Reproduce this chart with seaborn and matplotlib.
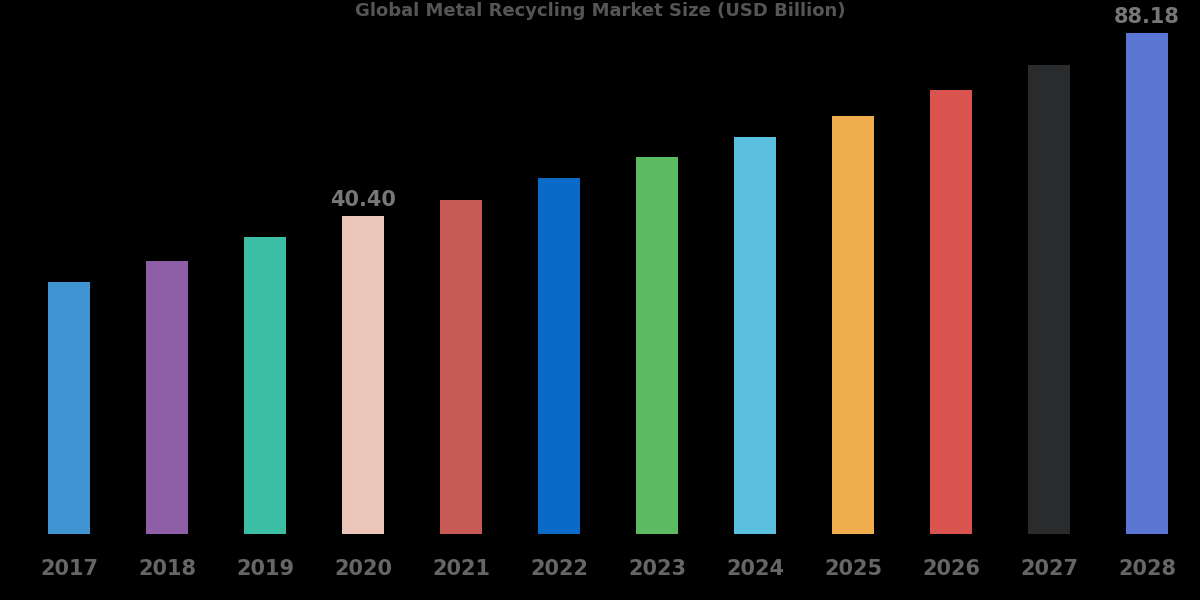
import matplotlib
matplotlib.use("Agg")
import matplotlib.pyplot as plt
import seaborn as sns
import pandas as pd

years = ["2017","2018","2019","2020","2021","2022","2023","2024","2025","2026","2027","2028"]
values = [23.2, 28.7, 34.9, 40.40, 44.6, 50.4, 55.8, 61.1, 66.5, 73.3, 79.9, 88.18]
colors = ["#3f94d1","#8e5ea7","#3cbea5","#ebc6b9","#c75a54","#0a6ac7",
          "#5cbb62","#5bbfe0","#f0ad4e","#d9534f","#2a2b2d","#5a75d2"]
labeled = {"2020": "40.40", "2028": "88.18"}
title = "Global Metal Recycling Market Size (USD Billion)"
offset = 42.6  # truncated axis baseline

df = pd.DataFrame({"year": years, "value": values})
df["shown"] = df["value"] + offset

fig = plt.figure(figsize=(12, 6), dpi=100, facecolor="black")
ax = fig.add_axes([20/1200, 66/600, 1176/1200, 534/600])
ax.set_facecolor("black")
sns.barplot(data=df, x="year", y="shown", hue="year", palette=colors,
            legend=False, width=0.42, ax=ax, saturation=1)
ax.set_xlim(-0.5, 11.5)
ax.set_ylim(0, 139.4)
for i, (y, s) in enumerate(zip(df["year"], df["shown"])):
    if y in labeled:
        ax.text(i, s + 1.5, labeled[y], ha="center", va="bottom",
                color="#777777", fontsize=15, fontweight="bold")
ax.set_xlabel(""); ax.set_ylabel("")
ax.set_yticks([])
ax.tick_params(axis="x", length=0, colors="#666666", labelsize=15, pad=18)
for l in ax.get_xticklabels():
    l.set_fontweight("bold")
for sp in ax.spines.values():
    sp.set_visible(False)
fig.text(0.5, 0.997, title, ha="center", va="top", color="#555555",
         fontsize=13, fontweight="bold")
fig.savefig("out.png", facecolor="black")
